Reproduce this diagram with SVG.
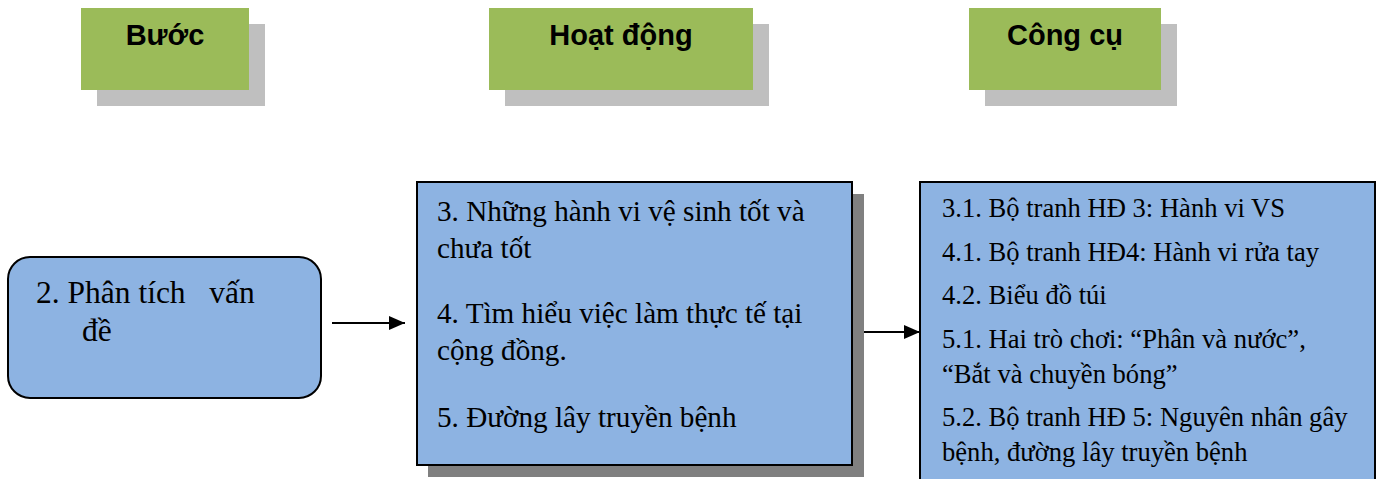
<svg xmlns="http://www.w3.org/2000/svg" width="1378" height="479" viewBox="0 0 1378 479">
<style>
.hdr{fill:#9bbb59}
.hsh{fill:#bfbfbf}
.ht{font-family:"Liberation Sans",Arial,sans-serif;font-weight:bold;font-size:29px;fill:#000;text-anchor:middle}
.box{fill:#8db3e2;stroke:#000;stroke-width:2}
.bsh{fill:#808080}
.t{font-family:"Liberation Serif","Times New Roman",serif;fill:#000;white-space:pre}
.conn{stroke:#000;stroke-width:2;fill:none}
</style>
<defs>
<marker id="ah" viewBox="0 0 16 14" refX="16" refY="7" markerWidth="16" markerHeight="14" markerUnits="userSpaceOnUse" orient="auto">
<path d="M0,0 L16,7 L0,14 Z" fill="#000"/>
</marker>
</defs>
<rect width="1378" height="479" fill="#fff"/>
<g id="hdr-buoc">
<rect class="hsh" x="97" y="24" width="168" height="82"/>
<rect class="hdr" x="81" y="8" width="168" height="82"/>
<text class="ht" x="165" y="45">Bước</text>
</g>
<g id="hdr-hoatdong">
<rect class="hsh" x="505" y="24" width="264" height="82"/>
<rect class="hdr" x="489" y="8" width="264" height="82"/>
<text class="ht" x="621" y="45">Hoạt động</text>
</g>
<g id="hdr-congcu">
<rect class="hsh" x="985" y="24" width="192" height="82"/>
<rect class="hdr" x="969" y="8" width="192" height="82"/>
<text class="ht" x="1065" y="45">Công cụ</text>
</g>
<g id="step">
<rect class="box" x="8" y="257" width="313" height="141" rx="22" ry="22"/>
<text class="t" font-size="31.5" x="36" y="303" xml:space="preserve">2. Phân tích   vấn</text>
<text class="t" font-size="31.5" x="82" y="341">đề</text>
</g>
<g id="activities">
<rect class="bsh" x="428" y="194" width="436" height="283"/>
<rect class="box" x="417" y="182" width="435" height="283"/>
<text class="t" font-size="29.2" x="437" y="221">3. Những hành vi vệ sinh tốt và</text>
<text class="t" font-size="29.2" x="437" y="258">chưa tốt</text>
<text class="t" font-size="29.2" x="437" y="323">4. Tìm hiểu việc làm thực tế tại</text>
<text class="t" font-size="29.2" x="437" y="360">cộng đồng.</text>
<text class="t" font-size="29.2" x="437" y="427">5. Đường lây truyền bệnh</text>
</g>
<g id="tools">
<rect class="box" x="920" y="182" width="455" height="310"/>
<text class="t" font-size="26.6" x="942" y="217">3.1. Bộ tranh HĐ 3: Hành vi VS</text>
<text class="t" font-size="26.6" x="942" y="261">4.1. Bộ tranh HĐ4: Hành vi rửa tay</text>
<text class="t" font-size="26.6" x="942" y="304">4.2. Biểu đồ túi</text>
<text class="t" font-size="26.6" x="942" y="348">5.1. Hai trò chơi: “Phân và nước”,</text>
<text class="t" font-size="26.6" x="942" y="383">“Bắt và chuyền bóng”</text>
<text class="t" font-size="26.6" x="942" y="426">5.2. Bộ tranh HĐ 5: Nguyên nhân gây</text>
<text class="t" font-size="26.6" x="942" y="461">bệnh, đường lây truyền bệnh</text>
</g>
<g id="connectors">
<line class="conn" x1="332" y1="323" x2="405" y2="323" marker-end="url(#ah)"/>
<line class="conn" x1="864" y1="332" x2="920" y2="332" marker-end="url(#ah)"/>
</g>
</svg>
